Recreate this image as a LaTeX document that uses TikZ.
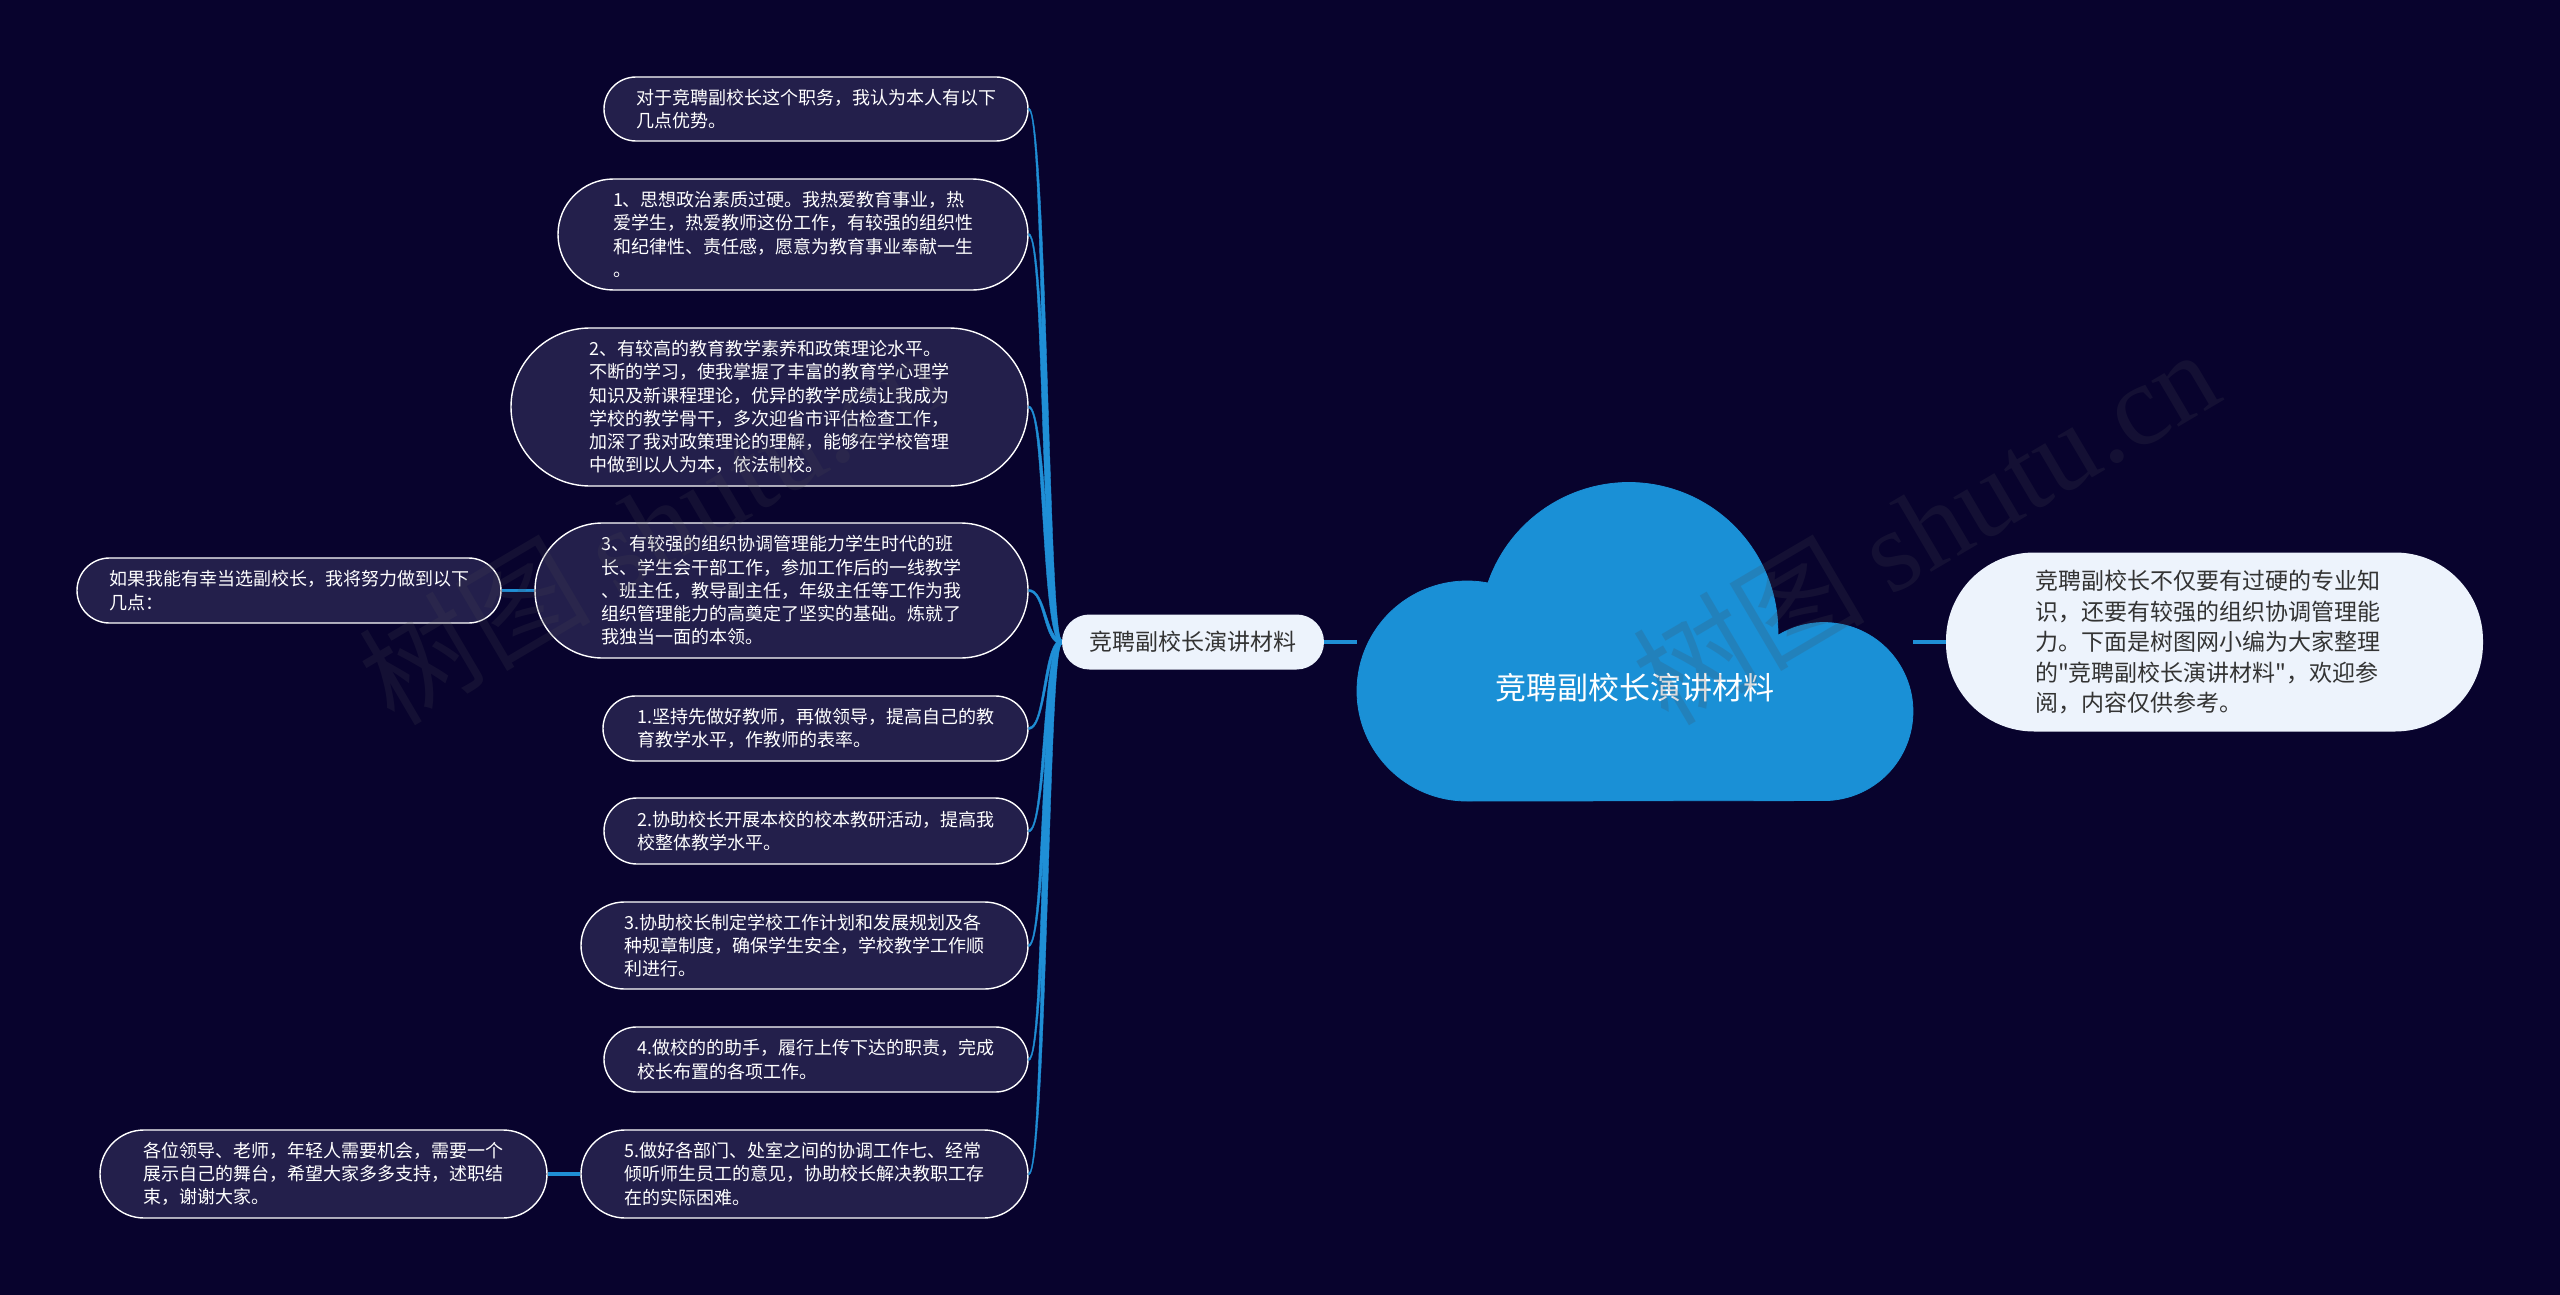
\documentclass[tikz,border=0pt]{standalone}
\usepackage{fontspec}
\usetikzlibrary{calc}
\setmainfont{Noto Sans CJK SC}
\newfontfamily\wmcjk{Noto Sans CJK SC}
\newfontfamily\wmlat{Liberation Serif}
\definecolor{bgc}{HTML}{08032D}
\definecolor{bubc}{HTML}{231F4B}
\definecolor{wirec}{HTML}{1F8FD6}
\definecolor{cloudc}{HTML}{1A90D6}
\definecolor{paleC}{HTML}{EDF3FC}
\definecolor{darktxt}{HTML}{333333}
\definecolor{wmc}{HTML}{464650}
\tikzset{
  x=0.5pt,y=-0.5pt,
  bubble/.style={draw=white,line width=0.7pt,fill=bubc,text=white,align=left,inner sep=0pt,
    font=\fontsize{9}{11.65}\selectfont},
  palebox/.style={fill=paleC,text=darktxt,align=left,inner sep=0pt},
  wire/.style={fill=wirec,draw=wirec,line width=0.2pt},
  stub/.style={draw=wirec,line width=1.8pt},
  wmark/.style={text=wmc,text opacity=0.2,rotate=30.5,inner sep=0pt,anchor=center},
}
% name, x1, y1, x2, y2, text
\newcommand{\bub}[6]{%
  \pgfmathsetmacro{\bw}{(#4-#2)/2}\pgfmathsetmacro{\bh}{(#5-#3)/2}%
  \pgfmathsetmacro{\rr}{(#5-#3)/4}%
  \node[bubble,rounded corners=\rr pt,minimum width=\bw pt,minimum height=\bh pt]
    (#1) at ({(#2+#4)/2},{(#3+#5)/2}) {#6};}
\begin{document}
\begin{tikzpicture}
\useasboundingbox (0,0) rectangle (2560,1295);
\fill[bgc] (0,0) rectangle (2560,1295);
% cloud
\draw[cloudc,fill=cloudc,line width=0.4pt] (1467,801) arc[start angle=90,end angle=281,radius=110]
  arc[start angle=199,end angle=361.5,radius=149]
  arc[start angle=238.8,end angle=450,radius=89] -- cycle;
\node[inner sep=0pt,minimum width=278pt,minimum height=159pt] (root) at (1635,642) {};
\node[inner sep=0pt,text=white,font=\fontsize{15.5}{18}\selectfont] (roottext) at (1635,688) {竞聘副校长演讲材料};
% branch
\node[palebox,rounded corners=13.7pt,minimum width=131pt,minimum height=27.5pt,font=\fontsize{11.5}{14}\selectfont] (branch) at (1193,642) {竞聘副校长演讲材料};
% intro
\node[palebox,rounded corners=44pt,minimum width=268.5pt,minimum height=89.5pt,font=\fontsize{11.5}{15.25}\selectfont] (intro) at (2214.5,642) {竞聘副校长不仅要有过硬的专业知\hspace*{7pt}\\识，还要有较强的组织协调管理能\\力。下面是树图网小编为大家整理\\的{\wmcjk"}竞聘副校长演讲材料{\wmcjk"}，欢迎参\\阅，内容仅供参考。};
% bubbles
\bub{na}{604}{77}{1028}{141}{对于竞聘副校长这个职务，我认为本人有以下\\几点优势。}
\bub{nb}{558}{179}{1028}{290}{1、思想政治素质过硬。我热爱教育事业，热\\爱学生，热爱教师这份工作，有较强的组织性\\和纪律性、责任感，愿意为教育事业奉献一生\\。}
\bub{nc}{511}{328}{1028}{486}{2、有较高的教育教学素养和政策理论水平。\\不断的学习，使我掌握了丰富的教育学心理学\\知识及新课程理论，优异的教学成绩让我成为\\学校的教学骨干，多次迎省市评估检查工作，\\加深了我对政策理论的理解，能够在学校管理\\中做到以人为本，依法制校。}
\bub{nd}{535}{523}{1028}{658}{3、有较强的组织协调管理能力学生时代的班\\长、学生会干部工作，参加工作后的一线教学\\、班主任，教导副主任，年级主任等工作为我\\组织管理能力的高奠定了坚实的基础。炼就了\\我独当一面的本领。}
\bub{ne}{77}{558}{501}{623}{如果我能有幸当选副校长，我将努力做到以下\\几点：}
\bub{nf}{603}{696}{1028}{761}{1.坚持先做好教师，再做领导，提高自己的教\\育教学水平，作教师的表率。}
\bub{ng}{604}{798}{1028}{864}{2.协助校长开展本校的校本教研活动，提高我\\校整体教学水平。}
\bub{nh}{581}{902}{1028}{989}{3.协助校长制定学校工作计划和发展规划及各\\种规章制度，确保学生安全，学校教学工作顺\\利进行。}
\bub{ni}{604}{1027}{1028}{1092}{4.做校的的助手，履行上传下达的职责，完成\\校长布置的各项工作。}
\bub{nj}{581}{1130}{1028}{1218}{5.做好各部门、处室之间的协调工作七、经常\\倾听师生员工的意见，协助校长解决教职工存\\在的实际困难。}
\bub{nk}{100}{1130}{547}{1218}{各位领导、老师，年轻人需要机会，需要一个\\展示自己的舞台，希望大家多多支持，述职结\\束，谢谢大家。}
% connectors: tapered curves, thin at the child, thick at the branch
\foreach \n/\s/\w in {na/1/1.3,nb/1/1.3,nc/1/1.2,nd/1/0.6,nf/-1/0.6,ng/-1/0.9,nh/-1/1.2,ni/-1/1.3,nj/-1/1.3}
  \draw[wire] ($(\n.east)+(0,-1.1)$) .. controls +({17+\s*\w},0) and +({-17+\s*3*\w},0) .. ($(branch.west)+(0,-2.2)$)
    -- ($(branch.west)+(0,2.2)$) .. controls +({-17-\s*3*\w},0) and +({17-\s*\w},0) .. ($(\n.east)+(0,1.1)$) -- cycle;
\draw[stub] (branch.east) -- (branch.east -| root.west);
\draw[stub] (root.east) -- (intro.west);
\draw[stub] (ne.east) -- (nd.west |- ne.east);
\draw[stub] (nk.east) -- (nj.west);
% watermarks
\node[wmark] (wmR) at (1925,525) {\wmcjk\fontsize{58}{58}\selectfont 树图 \wmlat shutu.cn};
\node[wmark] (wmL) at (651,525) {\wmcjk\fontsize{58}{58}\selectfont 树图 \wmlat shutu.cn};
\end{tikzpicture}
\end{document}
